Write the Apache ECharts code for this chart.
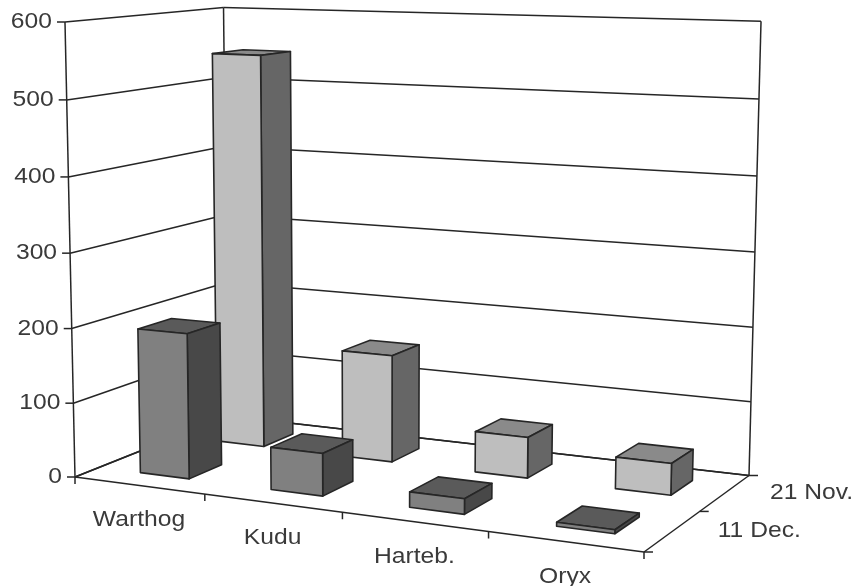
<!DOCTYPE html>
<html>
<head>
<meta charset="utf-8">
<style>html,body{margin:0;padding:0;background:#fff}#chart{width:856px;height:586px}</style>
<script src="https://cdn.jsdelivr.net/npm/echarts@6/dist/echarts.min.js"></script>
</head>
<body>
<div id="chart"></div>
<script>
// Chart data
const categories = ['Warthog', 'Kudu', 'Harteb.', 'Oryx'];
const depthLabels = ['11 Dec.', '21 Nov.'];      // front row first
const dec11 = [195, 56, 20, 5];
const nov21 = [545, 147, 55, 42];
const valueTicks = [0, 100, 200, 300, 400, 500, 600];

// Camera of the 3D scene: the floor corners on the page (front-left, front-right,
// back-right, back-left), the top of the front-left edge, and the point
// far below the page where all vertical edges meet.
const floorQuad = [[75, 477], [644, 552], [749, 475.5], [228, 416]];
const frontTop = [65, 22];
const verticalVanish = [381, 14380];

// Bars fill these shares of each category and depth band.
const widthShare = 0.38;
const depthShare = 0.42;
const widthNudge = 0.004;
const faceColors = {
  front: { face: '#808080', side: '#484848', top: '#5a5a5a' },
  back: { face: '#bebebe', side: '#666666', top: '#8a8a8a' }
};
const INK = '#262626';
const TEXT = '#3a3a3a';
const FONT = { fontSize: 22, fontFamily: '"Liberation Sans", Arial, sans-serif', fill: TEXT };
const TEXT_STRETCH = 1.12;

// Homogeneous projective map of the unit floor square.
function floorMap(q) {
  const [[x0, y0], [x1, y1], [x2, y2], [x3, y3]] = q;
  const dx1 = x1 - x2, dx2 = x3 - x2, sx = x0 - x1 + x2 - x3;
  const dy1 = y1 - y2, dy2 = y3 - y2, sy = y0 - y1 + y2 - y3;
  const det = dx1 * dy2 - dx2 * dy1;
  const g = (sx * dy2 - dx2 * sy) / det;
  const h = (dx1 * sy - sx * dy1) / det;
  const a = x1 - x0 + g * x1, b = x3 - x0 + h * x3;
  const d = y1 - y0 + g * y1, e = y3 - y0 + h * y3;
  return (u, v) => [a * u + b * v + x0, d * u + e * v + y0, g * u + h * v + 1];
}
const floorAt = floorMap(floorQuad);
// Weight of the vertical direction, fixed by the height of the front-left edge.
const riseWeight = (floorQuad[0][1] - frontTop[1]) / (frontTop[1] - verticalVanish[1]);

// u: along categories, v: depth (0 front), w: height share of the value axis.
function project(u, v, w) {
  const f = floorAt(u, v);
  const X = f[0] + w * riseWeight * verticalVanish[0];
  const Y = f[1] + w * riseWeight * verticalVanish[1];
  const W = f[2] + w * riseWeight;
  return [X / W, Y / W];
}

// Reads the hidden cartesian axes and returns normalised scene coordinates.
function scale(params, api, cat, value) {
  const cs = params.coordSys;
  const p = api.coord([cat, value]);
  return {
    u: (p[0] - cs.x) / cs.width,
    w: (cs.y + cs.height - p[1]) / cs.height,
    band: api.size([1, 0])[0] / cs.width
  };
}

function line(a, b, width) {
  return {
    type: 'line',
    shape: { x1: a[0], y1: a[1], x2: b[0], y2: b[1] },
    style: { stroke: INK, lineWidth: width || 1.5 }
  };
}
function label(text, p, align) {
  return {
    type: 'text', x: p[0], y: p[1], scaleX: TEXT_STRETCH,
    style: Object.assign({ text, align, verticalAlign: 'middle' }, FONT)
  };
}
function face(pts, fill) {
  return {
    type: 'polygon',
    shape: { points: pts },
    style: { fill, stroke: INK, lineWidth: 1.6, lineJoin: 'round' }
  };
}

// One gridline per value tick: side wall, back wall, tick mark and label.
function renderValueTick(params, api) {
  const s = scale(params, api, 0, api.value(1));
  const a = project(0, 0, s.w), b = project(0, 1, s.w), c = project(1, 1, s.w);
  return {
    type: 'group',
    children: [
      line(a, b), line(b, c),
      line([a[0] - 8, a[1]], a),
      label(String(api.value(1)), [a[0] - 13, a[1]], 'right')
    ]
  };
}

// Box edges, category ticks and labels, depth ticks and labels.
function renderFrame(params, api) {
  const children = [
    line(project(0, 0, 0), project(0, 0, 1)),
    line(project(0, 1, 0), project(0, 1, 1)),
    line(project(1, 1, 0), project(1, 1, 1)),
    line(project(0, 0, 0), project(1, 0, 0)),
    line(project(1, 0, 0), project(1, 1, 0)),
    line(project(1, 1, 0), project(0, 1, 0)),
    line(project(0, 1, 0), project(0, 0, 0))
  ];
  const n = categories.length;
  for (let i = 0; i <= n; i++) {
    const p = project(i / n, 0, 0);
    children.push(line(p, [p[0], p[1] + 7]));
  }
  categories.forEach((name, i) => {
    const s = scale(params, api, i, 0);
    const p = project(s.u, 0, 0);
    children.push(label(name, [p[0], p[1] + 35], 'center'));
  });
  const rows = depthLabels.length;
  for (let d = 0; d <= rows; d++) {
    const p = project(1, d / rows, 0);
    children.push(line(p, [p[0] + 9, p[1]]));
  }
  depthLabels.forEach((name, d) => {
    const p = project(1, (d + 0.5) / rows, 0);
    children.push(label(name, [p[0] + 45, p[1]], 'left'));
  });
  return { type: 'group', children };
}

// A bar is three visible faces of a box standing on its floor cell.
function barRenderer(row, colors) {
  return function (params, api) {
    const s = scale(params, api, api.value(0), api.value(1));
    const half = s.band * widthShare / 2;
    const rows = depthLabels.length;
    const u0 = s.u - half + widthNudge, u1 = s.u + half + widthNudge;
    const v0 = (row + 0.5 - depthShare / 2) / rows, v1 = (row + 0.5 + depthShare / 2) / rows;
    const fl = project(u0, v0, 0), fr = project(u1, v0, 0), br = project(u1, v1, 0);
    const tfl = project(u0, v0, s.w), tfr = project(u1, v0, s.w);
    const tbr = project(u1, v1, s.w), tbl = project(u0, v1, s.w);
    return {
      type: 'group',
      children: [
        face([tfl, tfr, tbr, tbl], colors.top),
        face([fr, br, tbr, tfr], colors.side),
        face([fl, fr, tfr, tfl], colors.face)
      ]
    };
  };
}

function pairs(values) {
  return values.map((v, i) => [i, v]);
}
function customSeries(renderItem, data, z) {
  return {
    type: 'custom', coordinateSystem: 'cartesian2d', renderItem, data, z,
    encode: { x: 0, y: 1 }, silent: true, animation: false
  };
}

const chart = echarts.init(document.getElementById('chart'), null, { renderer: 'canvas' });
chart.setOption({
  backgroundColor: '#ffffff',
  animation: false,
  grid: { left: 0, top: 0, width: 400, height: 400 },
  xAxis: { type: 'category', data: categories, show: false },
  yAxis: { type: 'value', min: 0, max: 600, interval: 100, show: false },
  series: [
    customSeries(renderValueTick, valueTicks.map(v => [0, v]), 1),
    customSeries(renderFrame, [[0, 0]], 2),
    customSeries(barRenderer(1, faceColors.back), pairs(nov21), 3),
    customSeries(barRenderer(0, faceColors.front), pairs(dec11), 4)
  ]
});
</script>
</body>
</html>
